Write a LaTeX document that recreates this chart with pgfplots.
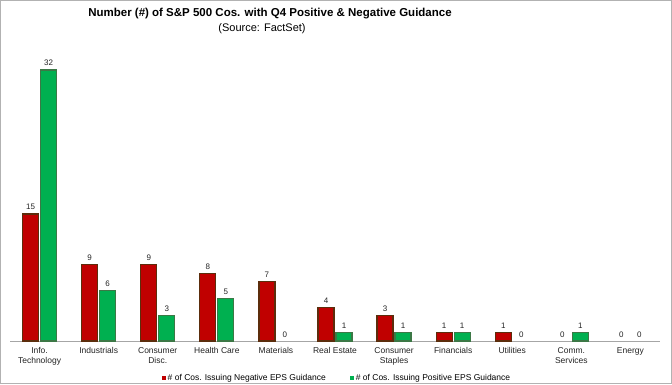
\documentclass[border=0pt]{standalone}
\usepackage{pgfplots}
\pgfplotsset{compat=1.18}
\usepackage{fontspec}
\setmainfont{Liberation Sans}
\definecolor{negfill}{RGB}{192,0,0}
\definecolor{negdraw}{RGB}{92,45,12}
\definecolor{posfill}{RGB}{0,176,80}
\definecolor{posdraw}{RGB}{60,120,70}
\definecolor{txt}{RGB}{35,35,35}
\begin{document}
\begin{tikzpicture}[x=1pt,y=1pt]
\begin{axis}[
  at={(10pt,43pt)}, anchor=south west,
  scale only axis, width=650pt, height=288pt,
  xmin=-0.5, xmax=10.5, ymin=0, ymax=34,
  axis x line*=bottom, axis y line=none,
  x axis line style={draw=gray!70, line width=0.6pt},
  xtick={0,...,10}, major tick length=0pt,
  xticklabels={{Info.\\Technology},Industrials,{Consumer\\Disc.},Health Care,Materials,Real Estate,{Consumer\\Staples},Financials,Utilities,{Comm.\\Services},Energy},
  xticklabel style={align=center, font=\fontsize{8.5}{10}\selectfont, text=txt, yshift=-3pt},
  ybar, bar width=16pt,
  nodes near coords,
  /pgf/number format/assume math mode=true,
  every node near coord/.append style={font=\fontsize{8}{9}\selectfont, text=txt},
  legend style={at={(0.503,-0.1)}, anchor=north, draw=none, legend columns=2, font=\fontsize{8.5}{9.5}\selectfont, /tikz/every even column/.append style={column sep=22pt}},
  legend image code/.code={\draw[#1, draw=none] (0pt,-2pt) rectangle (4pt,2pt);},
]
\addplot[bar shift=-9pt, fill=negfill, draw=negdraw, line width=1.2pt] coordinates {(0,15) (1,9) (2,9) (3,8) (4,7) (5,4) (6,3) (7,1) (8,1)};
\addplot[bar shift=9pt, fill=posfill, draw=posdraw, line width=1.2pt] coordinates {(0,32) (1,6) (2,3) (3,5) (5,1) (6,1) (7,1) (9,1)};
\addplot[forget plot, bar shift=-9pt, draw=none, fill=none] coordinates {(9,0) (10,0)};
\addplot[forget plot, bar shift=9pt, draw=none, fill=none] coordinates {(4,0) (8,0) (10,0)};
\legend{\# of Cos. Issuing Negative EPS Guidance, \# of Cos. Issuing Positive EPS Guidance}
\end{axis}
\node[font=\bfseries\fontsize{11.5}{13}\selectfont, text=black] at (270pt,370pt) {Number (\#) of S\&P 500 Cos. with Q4 Positive \& Negative Guidance};
\node[font=\fontsize{11}{13}\selectfont, text=black] at (262pt,355pt) {(Source: FactSet)};
\pgfresetboundingbox
\draw[gray!60, line width=1pt] (0.5pt,0.5pt) rectangle (671.5pt,383.5pt);
\end{tikzpicture}
\end{document}
